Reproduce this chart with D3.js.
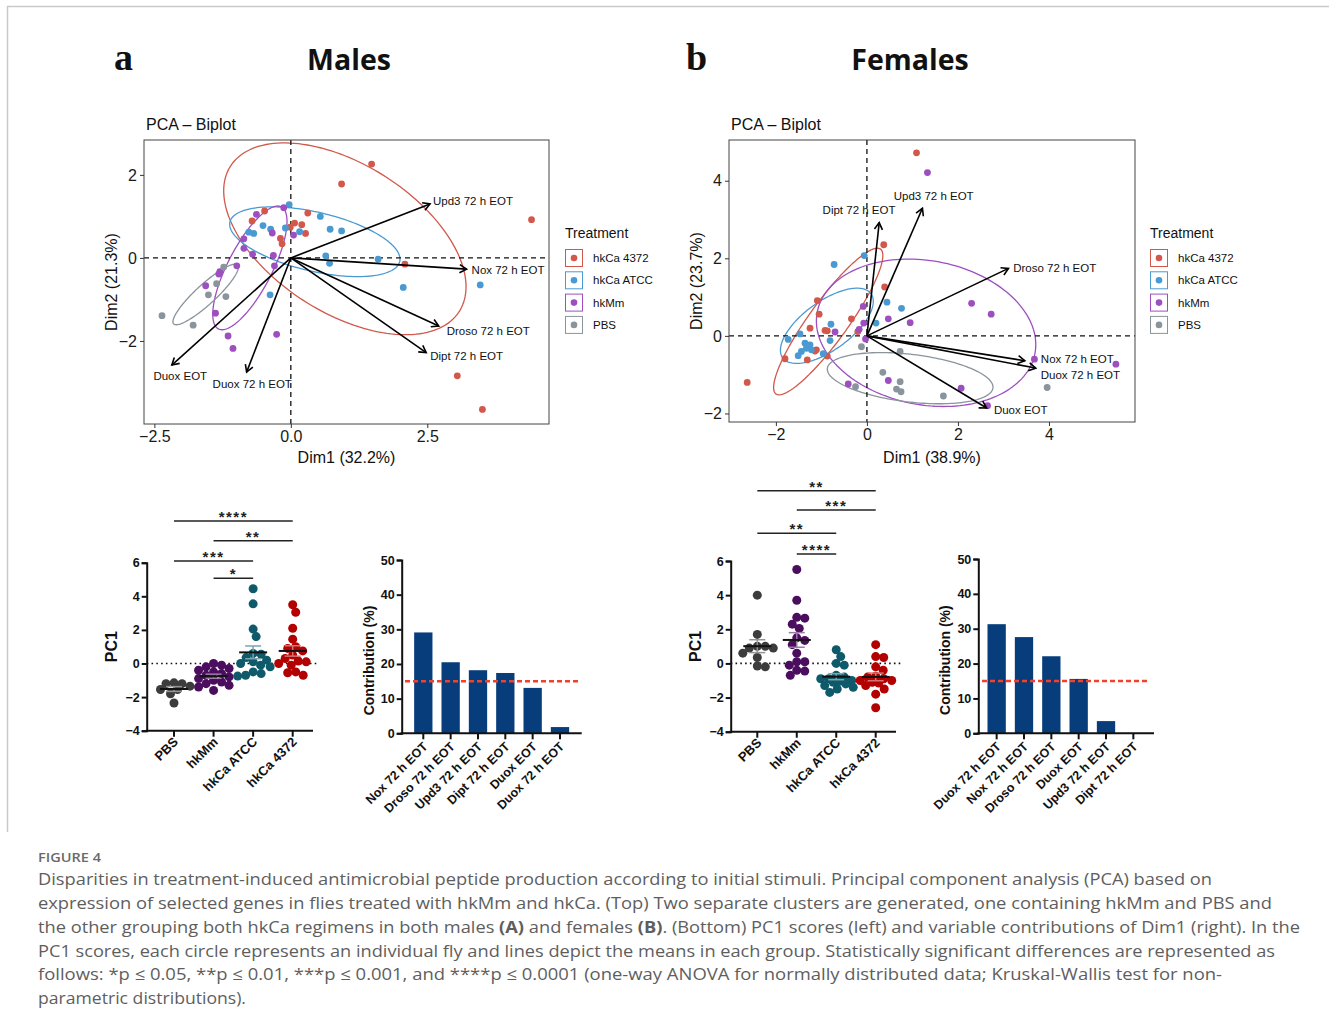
<!DOCTYPE html>
<html><head><meta charset="utf-8">
<script src="https://cdn.jsdelivr.net/npm/d3@7"></script>
<style>body{margin:0;background:#fff} svg{display:block}</style>
</head><body><svg id="fig" width="1329" height="1031"></svg>
<script>
// ================= DATA =================
const treatments = ["hkCa 4372", "hkCa ATCC", "hkMm", "PBS"];

// Males PCA individuals (Dim1, Dim2)
const mPCA_4372 = [[1.48,2.26],[0.93,1.78],[4.41,0.92],[0.31,1.08],[-0.48,1.13],[-0.71,0.89],[0.07,0.84],[0.20,0.80],[-0.01,0.74],[0.27,0.59],[-0.19,0.47],[-0.16,0.34],[2.09,-0.15],[3.05,-2.84],[3.51,-3.65]];
const mPCA_ATCC = [[-0.03,1.28],[0.54,1.00],[-0.51,0.78],[-0.37,0.69],[-0.77,0.62],[-0.68,0.59],[-0.10,0.72],[0.16,0.63],[0.72,0.69],[0.93,0.65],[0.64,0.05],[0.71,-0.13],[1.60,-0.03],[2.06,-0.71],[3.47,-0.65],[-0.38,-0.89]];
const mPCA_hkMm = [[-0.13,1.21],[-0.63,1.05],[-0.34,0.60],[0.05,0.55],[-0.86,0.46],[-0.86,0.23],[-0.70,0.09],[-0.32,0.06],[-0.30,-0.19],[-0.99,-0.19],[-1.30,-0.33],[-1.32,-0.39],[-1.56,-0.67],[-1.38,-1.33],[-1.15,-1.88],[-1.06,-2.18],[-0.26,-1.84]];
const mPCA_PBS = [[-1.23,-0.22],[-1.36,-0.62],[-1.51,-0.89],[-1.19,-0.93],[-2.36,-1.39],[-1.79,-1.62]];
// Males concentration ellipses: [cx, cy, halfWidth, halfHeight, rho]
const mEllipses = [[0.99,0.46,2.22,2.31,-0.5],[0.44,0.39,1.56,0.84,-0.5],[-0.75,-0.24,0.68,1.49,0.75],[-1.56,-0.88,0.60,0.73,0.9]];
// Males variables (arrows)
const mVarNames = ["Upd3 72 h EOT","Nox 72 h EOT","Droso 72 h EOT","Dipt 72 h EOT","Duox EOT","Duox 72 h EOT"];
const mVarCoords = [[2.55,1.30],[3.22,-0.27],[2.71,-1.64],[2.48,-2.28],[-2.18,-2.58],[-0.81,-2.75]];

// Females PCA individuals
const fPCA_4372 = [[1.09,4.72],[0.37,2.35],[0.39,1.26],[-1.09,0.91],[-1.05,0.56],[-0.34,0.44],[-1.25,0.20],[-0.92,0.14],[-0.87,0.13],[-0.20,0.11],[-1.11,-0.36],[-1.14,-0.39],[-1.31,-0.62],[-0.87,-0.52],[-1.80,-0.59],[-2.63,-1.20]];
const fPCA_ATCC = [[-0.06,2.07],[-0.72,1.84],[0.44,0.87],[0.76,0.71],[-0.79,0.30],[0.20,0.33],[-0.81,-0.12],[-1.47,0.05],[-1.73,-0.09],[-1.36,-0.19],[-1.25,-0.23],[-1.33,-0.32],[-1.44,-0.40],[-1.51,-0.51],[-1.22,-0.36],[-0.96,-0.46]];
const fPCA_hkMm = [[1.33,4.21],[2.30,0.84],[2.73,0.56],[0.95,0.34],[0.47,0.44],[-0.08,0.76],[-0.07,0.33],[-0.70,0.10],[-0.03,-0.08],[3.68,-0.60],[5.47,-0.73],[0.47,-1.15],[-0.41,-1.24],[2.07,-1.35],[2.65,-1.80],[-0.17,0.17]];
const fPCA_PBS = [[-0.12,-0.28],[0.73,-0.40],[0.35,-0.94],[0.73,-1.18],[0.65,-1.37],[0.75,-1.44],[-0.25,-1.31],[1.68,-1.55],[3.96,-1.33]];
const fEllipses = [[-0.85,0.37,1.20,1.89,0.9],[-0.88,0.26,1.02,0.97,0.65],[1.30,0.08,2.41,1.90,-0.16],[0.95,-1.09,1.82,0.66,-0.35]];
const fVarNames = ["Dipt 72 h EOT","Upd3 72 h EOT","Droso 72 h EOT","Nox 72 h EOT","Duox 72 h EOT","Duox EOT"];
const fVarCoords = [[0.27,2.92],[1.22,3.29],[3.11,1.74],[3.47,-0.64],[3.71,-0.83],[2.63,-1.86]];

// PC1 scores
const pc1Groups = ["PBS","hkMm","hkCa ATCC","hkCa 4372"];
const mPC1_PBS  = [-1.2,-1.15,-1.2,-1.55,-1.55,-1.8,-2.35,-1.35];
const mPC1_hkMm = [0.0,-0.2,-0.3,-0.4,-0.5,-0.6,-0.7,-0.8,-0.9,-1.0,-1.1,-1.2,-1.3,-1.4,-1.6,-0.1];
const mPC1_ATCC = [4.45,3.55,2.05,1.6,0.55,0.2,0.1,0.0,-0.1,-0.2,-0.5,-0.6,-0.7,-0.75,0.6,0.35];
const mPC1_4372 = [3.5,3.05,2.1,1.45,1.0,0.9,0.75,0.5,0.3,0.15,0.1,-0.1,-0.5,-0.55,-0.7,0.0];
const fPC1_PBS  = [4.0,1.7,1.0,1.0,0.9,0.9,0.35,-0.15,-0.2,0.6];
const fPC1_hkMm = [5.5,3.7,2.7,2.65,2.3,2.05,1.35,1.1,0.6,0.1,0.1,-0.1,-0.4,-0.45,-0.7,1.5];
const fPC1_ATCC = [0.8,0.4,0.0,-0.1,-0.7,-0.8,-0.9,-0.9,-1.0,-1.05,-1.1,-1.2,-1.3,-1.4,-1.5,-1.7];
const fPC1_4372 = [1.1,0.4,0.35,-0.2,-0.4,-0.75,-0.8,-0.9,-1.0,-1.0,-1.1,-1.15,-1.3,-1.5,-1.8,-2.6];
const pc1TicksY = [-4,-2,0,2,4,6];
// significance comparisons [fromGroupIdx, toGroupIdx, label]
const mSig = [[1,2,"*"],[0,2,"***"],[1,3,"**"],[0,3,"****"]];
const fSig = [[1,2,"****"],[0,2,"**"],[1,3,"***"],[0,3,"**"]];

// Contributions of Dim1
const mContribNames = ["Nox 72 h EOT","Droso 72 h EOT","Upd3 72 h EOT","Dipt 72 h EOT","Duox EOT","Duox 72 h EOT"];
const mContrib = [29.1, 20.5, 18.2, 17.4, 13.1, 1.8];
const fContribNames = ["Duox 72 h EOT","Nox 72 h EOT","Droso 72 h EOT","Duox EOT","Upd3 72 h EOT","Dipt 72 h EOT"];
const fContrib = [31.3, 27.6, 22.1, 15.6, 3.5, 0.05];
const contribRef = 15;
const contribTicks = [0,10,20,30,40,50];

const captionLines = [
 "Disparities in treatment-induced antimicrobial peptide production according to initial stimuli. Principal component analysis (PCA) based on",
 "expression of selected genes in flies treated with hkMm and hkCa. (Top) Two separate clusters are generated, one containing hkMm and PBS and",
 "the other grouping both hkCa regimens in both males |(A)| and females |(B)|. (Bottom) PC1 scores (left) and variable contributions of Dim1 (right). In the",
 "PC1 scores, each circle represents an individual fly and lines depict the means in each group. Statistically significant differences are represented as",
 "follows: *p ≤ 0.05, **p ≤ 0.01, ***p ≤ 0.001, and ****p ≤ 0.0001 (one-way ANOVA for normally distributed data; Kruskal-Wallis test for non-",
 "parametric distributions)."
];

// ================= STYLE / LAYOUT =================
const FONT = "'Liberation Sans', Arial, Helvetica, sans-serif";
const pcaColors = ["#D2584B","#4A9AD2","#9D4FC0","#8A949C"];
const pc1Colors = ["#3c3c3c","#4b0e5e","#0e5a6b","#b30000"];
const barColor = "#083d7c";
const refColor = "#f2412a";

const svg = d3.select("#fig");
svg.append("rect").attr("width",1329).attr("height",1031).attr("fill","#fff");
svg.append("path").attr("d","M7.5,832 V6.5 H1329").attr("fill","none").attr("stroke","#c9c9c9").attr("stroke-width",1.5);

// headers
function header(letter, lx, title, tx){
  svg.append("text").attr("x",lx).attr("y",70).attr("font-family","'Liberation Serif','DejaVu Serif',serif")
    .attr("font-weight","bold").attr("font-size",38).attr("fill","#111").text(letter);
  svg.append("text").attr("x",tx).attr("y",70).attr("text-anchor","middle").attr("font-family","'Open Sans',sans-serif")
    .attr("font-weight","700").attr("font-size",28.5).attr("fill","#111").text(title);
}
header("a",114,"Males",349);
header("b",686,"Females",910);

function ellipsePts(e, n){
  const [cx,cy,W,H,rho]=e; const s=Math.sqrt(1-rho*rho);
  return d3.range(n).map(i=>{const t=2*Math.PI*i/n; return [cx+W*Math.cos(t), cy+H*(rho*Math.cos(t)+s*Math.sin(t))];});
}

function pcaPanel(o){
  const x=d3.scaleLinear().domain(o.xDomain).range([o.box.l,o.box.r]);
  const y=d3.scaleLinear().domain(o.yDomain).range([o.box.b,o.box.t]);
  const g=svg.append("g");
  const cid="clip_"+o.id;
  svg.append("clipPath").attr("id",cid).append("rect").attr("x",o.box.l).attr("y",o.box.t)
    .attr("width",o.box.r-o.box.l).attr("height",o.box.b-o.box.t);
  const inner=g.append("g").attr("clip-path",`url(#${cid})`);
  const line=d3.line().x(d=>x(d[0])).y(d=>y(d[1])).curve(d3.curveLinearClosed);
  o.ellipses.forEach((e,i)=>{
    inner.append("path").attr("d",line(ellipsePts(e,160))).attr("fill","none")
      .attr("stroke",pcaColors[i]).attr("stroke-width",1.3);
  });
  inner.append("line").attr("x1",x(0)).attr("x2",x(0)).attr("y1",o.box.t).attr("y2",o.box.b)
    .attr("stroke","#111").attr("stroke-width",1.3).attr("stroke-dasharray","5,4");
  inner.append("line").attr("y1",y(0)).attr("y2",y(0)).attr("x1",o.box.l).attr("x2",o.box.r)
    .attr("stroke","#111").attr("stroke-width",1.3).attr("stroke-dasharray","5,4");
  o.points.forEach((pts,i)=>{
    inner.selectAll(null).data(pts).enter().append("circle")
      .attr("cx",d=>x(d[0])).attr("cy",d=>y(d[1])).attr("r",3.4).attr("fill",pcaColors[i]);
  });
  // arrows
  o.vars.forEach((v,i)=>{
    const c=o.varCoords[i];
    const x0=x(0),y0=y(0),x1=x(c[0]),y1=y(c[1]);
    g.append("line").attr("x1",x0).attr("y1",y0).attr("x2",x1).attr("y2",y1)
      .attr("stroke","#000").attr("stroke-width",1.6);
    const ang=Math.atan2(y1-y0,x1-x0), L=8, a=Math.PI/6;
    const p1=[x1-L*Math.cos(ang-a), y1-L*Math.sin(ang-a)];
    const p2=[x1-L*Math.cos(ang+a), y1-L*Math.sin(ang+a)];
    g.append("path").attr("d",`M${p1}L${x1},${y1}L${p2}`).attr("fill","none")
      .attr("stroke","#000").attr("stroke-width",1.6).attr("stroke-linejoin","miter");
    const off=o.labelOffsets[i];
    g.append("text").attr("x",x1+off[0]).attr("y",y1+off[1]).attr("font-family",FONT)
      .attr("font-size",11.5).attr("fill","#111").text(v);
  });
  g.append("rect").attr("x",o.box.l).attr("y",o.box.t).attr("width",o.box.r-o.box.l)
    .attr("height",o.box.b-o.box.t).attr("fill","none").attr("stroke","#444").attr("stroke-width",1);
  const xa=g.append("g").attr("transform",`translate(0,${o.box.b})`)
    .call(d3.axisBottom(x).tickValues(o.xTicks).tickSize(4).tickPadding(3).tickFormat(o.xFmt));
  const ya=g.append("g").attr("transform",`translate(${o.box.l},0)`)
    .call(d3.axisLeft(y).tickValues(o.yTicks).tickSize(4).tickPadding(3).tickFormat(o.yFmt));
  [xa,ya].forEach(a=>{
    a.select(".domain").remove();
    a.selectAll("line").attr("stroke","#333");
    a.selectAll("text").attr("font-family",FONT).attr("font-size",16).attr("fill","#1a1a1a");
  });
  svg.append("text").attr("x",o.box.l+2).attr("y",130).attr("font-family",FONT).attr("font-size",16)
    .attr("fill","#111").text("PCA – Biplot");
  svg.append("text").attr("x",(o.box.l+o.box.r)/2).attr("y",463).attr("text-anchor","middle")
    .attr("font-family",FONT).attr("font-size",16).attr("fill","#111").text(o.xTitle);
  svg.append("text").attr("transform",`translate(${o.box.l-27},${(o.box.t+o.box.b)/2}) rotate(-90)`)
    .attr("text-anchor","middle").attr("font-family",FONT).attr("font-size",16).attr("fill","#111").text(o.yTitle);
  // legend
  const lg=svg.append("g").attr("transform",`translate(${o.legendX},0)`);
  lg.append("text").attr("x",0).attr("y",238).attr("font-family",FONT).attr("font-size",14).attr("fill","#111").text("Treatment");
  treatments.forEach((t,i)=>{
    const cy=258+i*22.3;
    lg.append("rect").attr("x",0.5).attr("y",cy-8.5).attr("width",17).attr("height",17)
      .attr("fill","#fff").attr("stroke",pcaColors[i]).attr("stroke-width",1);
    lg.append("circle").attr("cx",9).attr("cy",cy).attr("r",3.3).attr("fill",pcaColors[i]);
    lg.append("text").attr("x",28).attr("y",cy+4).attr("font-family",FONT).attr("font-size",11.5).attr("fill","#111").text(t);
  });
}
const minusFmt = f => d => (d<0?"−":"")+d3.format(f)(Math.abs(d));

pcaPanel({id:"m", box:{l:144,r:549,t:140,b:424}, xDomain:[-2.69,4.73], yDomain:[-4.0,2.84],
  points:[mPCA_4372,mPCA_ATCC,mPCA_hkMm,mPCA_PBS], ellipses:mEllipses, vars:mVarNames, varCoords:mVarCoords,
  labelOffsets:[[3,1.5],[5,4.7],[8,9],[4,7.3],[-18.4,15],[-34,15.7]],
  xTicks:[-2.5,0,2.5], yTicks:[-2,0,2], xFmt:minusFmt(".1f"), yFmt:minusFmt("d"),
  xTitle:"Dim1 (32.2%)", yTitle:"Dim2 (21.3%)", legendX:565});
pcaPanel({id:"f", box:{l:729,r:1135,t:140,b:422}, xDomain:[-3.03,5.89], yDomain:[-2.22,5.05],
  points:[fPCA_4372,fPCA_ATCC,fPCA_hkMm,fPCA_PBS], ellipses:fEllipses, vars:fVarNames, varCoords:fVarCoords,
  labelOffsets:[[-56.6,-8.7],[-28.7,-8.3],[4.7,3.7],[16,2],[5,10.7],[7.3,5.7]],
  xTicks:[-2,0,2,4], yTicks:[-2,0,2,4], xFmt:minusFmt("d"), yFmt:minusFmt("d"),
  xTitle:"Dim1 (38.9%)", yTitle:"Dim2 (23.7%)", legendX:1150});

// ===== PC1 scatter =====
// deterministic beeswarm: smallest horizontal offset (within +/-maxOff) that clears neighbours by D,
// otherwise the offset with the largest clearance
function swarm(vals, ys, D, maxOff){
  const placed=[], out=new Array(vals.length);
  const cands=[0]; for(let k=0.5;k<=maxOff;k+=0.5){cands.push(k,-k);}
  vals.map((v,i)=>({v,i})).sort((a,b)=>b.v-a.v).forEach(p=>{
    const py=ys(p.v); let best=null, bestClear=-1, bestC=0;
    for(const c of cands){
      const clear=placed.length?d3.min(placed,q=>Math.hypot(q.x-c,q.y-py)):Infinity;
      if(clear>=D){best=c;break;}
      if(clear>bestClear){bestClear=clear;bestC=c;}
    }
    if(best===null) best=bestC;
    placed.push({x:best,y:py}); out[p.i]=best;
  });
  return out;
}
function pc1Panel(o){
  const g=svg.append("g");
  const y=d3.scaleLinear().domain([-4,6]).range([o.yB,o.yT]);
  const x=d3.scalePoint().domain(pc1Groups).range(o.catRange);
  g.append("line").attr("x1",o.axisX).attr("x2",o.dotEnd).attr("y1",y(0)).attr("y2",y(0))
    .attr("stroke","#111").attr("stroke-width",1.6).attr("stroke-dasharray","1.6,3.2");
  o.data.forEach((vals,i)=>{
    const cx=x(pc1Groups[i]); const offs=swarm(vals,y,8,17);
    g.selectAll(null).data(vals).enter().append("circle")
      .attr("cx",(d,j)=>cx+offs[j]).attr("cy",d=>y(d)).attr("r",4.5).attr("fill",pc1Colors[i]);
    const m=d3.mean(vals), sem=d3.deviation(vals)/Math.sqrt(vals.length);
    const lc=d3.interpolateRgb(pc1Colors[i],"#fff")(0.45);
    g.append("line").attr("x1",cx).attr("x2",cx).attr("y1",y(m-sem)).attr("y2",y(m+sem)).attr("stroke",lc).attr("stroke-width",1.5);
    [m-sem,m+sem].forEach(v=>g.append("line").attr("x1",cx-8).attr("x2",cx+8).attr("y1",y(v)).attr("y2",y(v)).attr("stroke",lc).attr("stroke-width",1.5));
    g.append("line").attr("x1",cx-14).attr("x2",cx+14).attr("y1",y(m)).attr("y2",y(m)).attr("stroke","#111").attr("stroke-width",2);
  });
  const ya=g.append("g").attr("transform",`translate(${o.axisX},0)`)
    .call(d3.axisLeft(y).tickValues(pc1TicksY).tickSize(5).tickPadding(2).tickFormat(d3.format("d")));
  ya.select(".domain").attr("stroke","#111").attr("stroke-width",2);
  ya.selectAll("line").attr("stroke","#111").attr("stroke-width",2);
  ya.selectAll("text").attr("font-family",FONT).attr("font-weight","bold").attr("font-size",12.5).attr("fill","#111");
  g.append("line").attr("x1",o.axisX-1).attr("x2",o.xEnd).attr("y1",o.yB).attr("y2",o.yB).attr("stroke","#111").attr("stroke-width",2);
  pc1Groups.forEach(c=>{
    g.append("line").attr("x1",x(c)).attr("x2",x(c)).attr("y1",o.yB).attr("y2",o.yB+6).attr("stroke","#111").attr("stroke-width",2);
    g.append("text").attr("transform",`translate(${x(c)+5},${o.yB+12}) rotate(-45)`).attr("text-anchor","end")
      .attr("font-family",FONT).attr("font-weight","bold").attr("font-size",13).attr("fill","#111").text(c);
  });
  g.append("text").attr("transform",`translate(${o.axisX-30},${y(1)}) rotate(-90)`).attr("text-anchor","middle")
    .attr("font-family",FONT).attr("font-weight","bold").attr("font-size",16).attr("fill","#111").text("PC1");
  o.sig.forEach((s,k)=>{
    const ly=o.sigY[k];
    g.append("line").attr("x1",x(pc1Groups[s[0]])).attr("x2",x(pc1Groups[s[1]])).attr("y1",ly).attr("y2",ly)
      .attr("stroke","#222").attr("stroke-width",1.5);
    g.append("text").attr("x",(x(pc1Groups[s[0]])+x(pc1Groups[s[1]]))/2).attr("y",ly+1).attr("text-anchor","middle")
      .attr("font-family",FONT).attr("font-weight","bold").attr("font-size",15).attr("letter-spacing",1.5)
      .attr("fill","#222").text(s[2]);
  });
}
pc1Panel({axisX:146.7, yB:730.7, yT:562.7, catRange:[174,292.7], xEnd:313, dotEnd:318,
  data:[mPC1_PBS,mPC1_hkMm,mPC1_ATCC,mPC1_4372], sig:mSig, sigY:[578.3,561,540.7,521]});
pc1Panel({axisX:730.7, yB:731.7, yT:561, catRange:[757.3,875.7], xEnd:896, dotEnd:902,
  data:[fPC1_PBS,fPC1_hkMm,fPC1_ATCC,fPC1_4372], sig:fSig, sigY:[554,533.3,510,490.7]});

// ===== Contribution bars =====
function barPanel(o){
  const g=svg.append("g");
  const y=d3.scaleLinear().domain([0,50]).range([o.yB,o.yT]);
  const x=d3.scaleBand().domain(o.names).range(o.bandRange).paddingInner(0.33).paddingOuter(0);
  g.selectAll(null).data(o.values).enter().append("rect")
    .attr("x",(d,i)=>x(o.names[i])).attr("width",x.bandwidth())
    .attr("y",d=>y(d)).attr("height",d=>o.yB-y(d)).attr("fill",barColor);
  g.append("line").attr("x1",o.refX[0]).attr("x2",o.refX[1]).attr("y1",y(contribRef)).attr("y2",y(contribRef))
    .attr("stroke",refColor).attr("stroke-width",2.6).attr("stroke-dasharray","5,3");
  const ya=g.append("g").attr("transform",`translate(${o.axisX},0)`)
    .call(d3.axisLeft(y).tickValues(contribTicks).tickSize(5).tickPadding(2).tickFormat(d3.format("d")));
  ya.select(".domain").attr("stroke","#111").attr("stroke-width",2);
  ya.selectAll("line").attr("stroke","#111").attr("stroke-width",2);
  ya.selectAll("text").attr("font-family",FONT).attr("font-weight","bold").attr("font-size",12.5).attr("fill","#111");
  g.append("line").attr("x1",o.axisX-1).attr("x2",o.xEnd).attr("y1",o.yB).attr("y2",o.yB).attr("stroke","#111").attr("stroke-width",2);
  o.names.forEach(n=>{
    const cx=x(n)+x.bandwidth()/2;
    g.append("line").attr("x1",cx).attr("x2",cx).attr("y1",o.yB).attr("y2",o.yB+6).attr("stroke","#111").attr("stroke-width",2);
    g.append("text").attr("transform",`translate(${cx+5},${o.yB+14}) rotate(-45)`).attr("text-anchor","end")
      .attr("font-family",FONT).attr("font-weight","bold").attr("font-size",12.5).attr("fill","#111").text(n);
  });
  g.append("text").attr("transform",`translate(${o.axisX-28},${y(21)}) rotate(-90)`).attr("text-anchor","middle")
    .attr("font-family",FONT).attr("font-weight","bold").attr("font-size",14).attr("fill","#111").text("Contribution (%)");
}
barPanel({names:mContribNames, values:mContrib, axisX:401.7, yB:733.3, yT:560, bandRange:[414.15,569.15], xEnd:581.7, refX:[405,580]});
barPanel({names:fContribNames, values:fContrib, axisX:978.3, yB:733.3, yT:559, bandRange:[987.5,1142.5], xEnd:1154, refX:[982,1150]});

// ===== Caption =====
svg.append("text").attr("x",38).attr("y",862).attr("font-family","'Open Sans',sans-serif").attr("font-weight","600")
  .attr("font-size",13).attr("fill","#6a6a6a").attr("textLength",63).attr("lengthAdjust","spacingAndGlyphs").text("FIGURE 4");
const capEnds=[1212,1272,1300,1275,1222,246];
const capY=[885,909,933,957,980,1004];
captionLines.forEach((ln,i)=>{
  const t=svg.append("text").attr("x",38).attr("y",capY[i]).attr("font-family","'Open Sans',sans-serif")
    .attr("font-weight","400").attr("font-size",16.5).attr("fill","#5e5e5e")
    .attr("textLength",capEnds[i]-38).attr("lengthAdjust","spacingAndGlyphs");
  ln.split("|").forEach((part,k)=>{
    t.append("tspan").attr("font-weight",k%2===1?"700":"400").text(part);
  });
});
</script></body></html>
